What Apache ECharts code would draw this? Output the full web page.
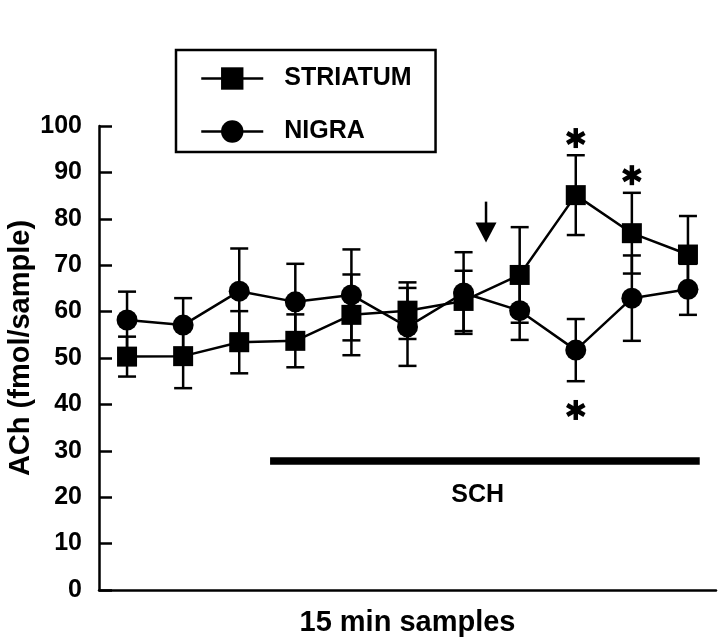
<!DOCTYPE html>
<html>
<head>
<meta charset="utf-8">
<script src="https://cdn.jsdelivr.net/npm/echarts@6/dist/echarts.min.js"></script>
<style>
html,body{margin:0;padding:0;background:#fff;}
#chart{width:720px;height:644px;}
</style>
</head>
<body>
<div id="chart"></div>
<script>
// ---- data ----
const samples = [1, 2, 3, 4, 5, 6, 7, 8, 9, 10, 11];
const striatumMean = [50.3, 50.4, 53.4, 53.7, 59.3, 60.2, 62.3, 67.9, 85.1, 76.9, 72.3];
const striatumErr  = [4.3, 6.9, 6.7, 5.7, 8.7, 6.1, 6.5, 10.3, 8.6, 8.7, 8.3];
const nigraMean    = [58.2, 57.1, 64.4, 62.1, 63.6, 56.7, 64.0, 60.2, 51.7, 62.9, 64.8];
const nigraErr     = [6.1, 5.8, 9.2, 8.2, 9.8, 8.4, 8.8, 6.3, 6.7, 9.2, 5.5];
const yTicks = [0, 10, 20, 30, 40, 50, 60, 70, 80, 90, 100];
const starPoints = [[9, 97.4], [10, 89.4], [9, 38.8]];
const arrowPoint = [7.4, 83.7, 74.9];       // x, top, tip
const schBar = [3.55, 11.21, 27.8];         // x start, x end, y
const schLabel = [7.25, 20.5, 'SCH'];
const seriesNames = ['STRIATUM', 'NIGRA'];
const xTitle = '15 min samples';
const yTitle = 'ACh (fmol/sample)';

const FONT = '"Liberation Sans", Arial, Helvetica, sans-serif';

function errData(mean, err) {
  return samples.map((s, i) => [s, mean[i] - err[i], mean[i] + err[i]]);
}

function errRender(params, api) {
  const x = api.value(0), lo = api.value(1), hi = api.value(2);
  const pHi = api.coord([x, hi]);
  const pLo = api.coord([x, lo]);
  const w = 9;
  const st = { stroke: '#000', lineWidth: 2.5 };
  return {
    type: 'group',
    children: [
      { type: 'line', shape: { x1: pHi[0], y1: pHi[1], x2: pLo[0], y2: pLo[1] }, style: st },
      { type: 'line', shape: { x1: pHi[0] - w, y1: pHi[1], x2: pHi[0] + w, y2: pHi[1] }, style: st },
      { type: 'line', shape: { x1: pLo[0] - w, y1: pLo[1], x2: pLo[0] + w, y2: pLo[1] }, style: st }
    ]
  };
}

function starRender(params, api) {
  const c = api.coord([api.value(0), api.value(1)]);
  const r = 10;
  const children = [];
  [90, 30, 150].forEach(a => {
    const rad = a * Math.PI / 180;
    const dx = r * Math.cos(rad), dy = r * Math.sin(rad);
    children.push({ type: 'line', shape: { x1: c[0] - dx, y1: c[1] - dy, x2: c[0] + dx, y2: c[1] + dy },
      style: { stroke: '#000', lineWidth: 4.5 } });
  });
  return { type: 'group', children };
}

function arrowRender(params, api) {
  const top = api.coord([api.value(0), api.value(1)]);
  const tip = api.coord([api.value(0), api.value(2)]);
  const hh = 20, hw = 10.5;
  return {
    type: 'group',
    children: [
      { type: 'line', shape: { x1: top[0], y1: top[1], x2: tip[0], y2: tip[1] - hh + 2 }, style: { stroke: '#000', lineWidth: 2.5 } },
      { type: 'polygon', shape: { points: [[tip[0] - hw, tip[1] - hh], [tip[0] + hw, tip[1] - hh], [tip[0], tip[1]]] }, style: { fill: '#000' } }
    ]
  };
}

function barRender(params, api) {
  const a = api.coord([api.value(0), api.value(2)]);
  const b = api.coord([api.value(1), api.value(2)]);
  return { type: 'line', shape: { x1: a[0], y1: a[1], x2: b[0], y2: b[1] }, style: { stroke: '#000', lineWidth: 7.5 } };
}

function labelRender(params, api) {
  const c = api.coord([api.value(0), api.value(1)]);
  return { type: 'text', x: c[0], y: c[1], style: { text: api.value(2), fill: '#000', font: 'bold 25px ' + FONT, align: 'center', verticalAlign: 'middle' } };
}

const chart = echarts.init(document.getElementById('chart'), null, { renderer: 'canvas' });
chart.setOption({
  backgroundColor: '#fff',
  animation: false,
  textStyle: { fontFamily: FONT, color: '#000' },
  grid: { left: 99, right: 4, top: 126, bottom: 54, containLabel: false, outerBoundsMode: 'none' },
  legend: {
    data: seriesNames,
    orient: 'vertical',
    left: 176, top: 50,
    padding: [16, 24, 8, 24],
    borderColor: '#000', borderWidth: 2.5, borderRadius: 0,
    itemWidth: 62, itemHeight: 28, itemGap: 28,
    lineStyle: { width: 2.5, color: '#000' },
    textStyle: { fontSize: 25, fontWeight: 'bold', color: '#000', fontFamily: FONT, padding: [0, 0, 0, 16], lineHeight: 25 }
  },
  xAxis: {
    type: 'value', min: 0.5, max: 11.5,
    name: xTitle, nameLocation: 'middle', nameGap: 18, nameMoveOverlap: false,
    nameTextStyle: { fontSize: 29, fontWeight: 'bold', color: '#000', fontFamily: FONT },
    axisLine: { lineStyle: { color: '#000', width: 2.5 } },
    axisTick: { show: false }, axisLabel: { show: false }, splitLine: { show: false }
  },
  yAxis: {
    type: 'value', min: yTicks[0], max: yTicks[yTicks.length - 1], interval: 10,
    name: yTitle, nameLocation: 'middle', nameGap: 64, nameRotate: 90, nameMoveOverlap: false,
    nameTextStyle: { fontSize: 29, fontWeight: 'bold', color: '#000', fontFamily: FONT, padding: [0, 0, 0, 20] },
    axisLine: { show: true, lineStyle: { color: '#000', width: 2.5 } },
    axisTick: { show: true, inside: true, length: 13, lineStyle: { color: '#000', width: 2.5 } },
    axisLabel: { fontSize: 25, fontWeight: 'bold', color: '#000', fontFamily: FONT, margin: 17 },
    splitLine: { show: false }
  },
  series: [
    { type: 'custom', name: 'striatumErr', renderItem: errRender, data: errData(striatumMean, striatumErr), z: 1, silent: true },
    { type: 'custom', name: 'nigraErr', renderItem: errRender, data: errData(nigraMean, nigraErr), z: 1, silent: true },
    {
      type: 'line', name: seriesNames[0], data: samples.map((s, i) => [s, striatumMean[i]]),
      symbol: 'rect', symbolSize: 20, z: 3,
      lineStyle: { color: '#000', width: 2.5 }, itemStyle: { color: '#000' }
    },
    {
      type: 'line', name: seriesNames[1], data: samples.map((s, i) => [s, nigraMean[i]]),
      symbol: 'circle', symbolSize: 21, z: 3,
      lineStyle: { color: '#000', width: 2.5 }, itemStyle: { color: '#000' }
    },
    { type: 'custom', name: 'stars', renderItem: starRender, data: starPoints, z: 4, silent: true },
    { type: 'custom', name: 'arrow', renderItem: arrowRender, data: [arrowPoint], z: 4, silent: true },
    { type: 'custom', name: 'sch', renderItem: barRender, data: [schBar], z: 4, silent: true },
    { type: 'custom', name: 'schLabel', renderItem: labelRender, data: [schLabel], z: 4, silent: true, dimensions: ['x', 'y', { name: 'label', type: 'ordinal' }] }
  ]
});
</script>
</body>
</html>
